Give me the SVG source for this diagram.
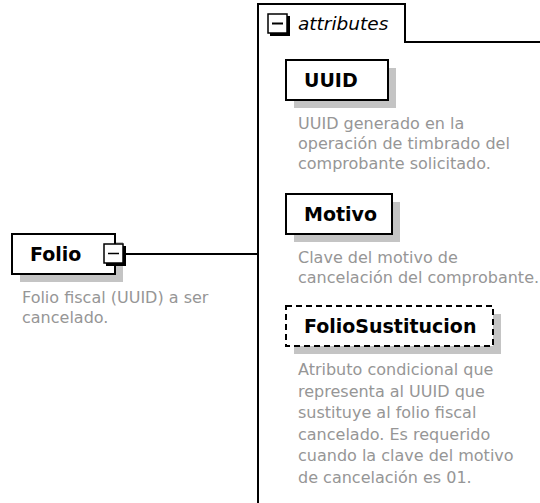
<svg xmlns="http://www.w3.org/2000/svg" width="540" height="503" viewBox="0 0 540 503">
  <style>
    .box { fill: #ffffff; stroke: #000000; stroke-width: 2; }
    .dashed { stroke-dasharray: 6 4; }
    .shadow { fill: #c4c4c4; stroke: none; }
    .title { font-family: "DejaVu Sans", Verdana, sans-serif; font-weight: bold; font-size: 19px; fill: #000000; }
    .desc { font-family: "DejaVu Sans", Verdana, sans-serif; font-size: 16px; fill: #969696; }
    .attr { font-family: "DejaVu Sans", Verdana, sans-serif; font-style: italic; font-size: 18.5px; fill: #000000; }
    .line { fill: none; stroke: #000000; stroke-width: 2; }
    .minus { fill: #ffffff; stroke: #000000; stroke-width: 1.5; }
  </style>

  <g id="attributes">
    <path class="line" d="M540,42 H405 V4 H258 V503"/>
    <rect x="270" y="16" width="20" height="20" fill="#000000"/>
    <rect class="minus" x="268" y="14" width="19" height="19"/>
    <line x1="272" y1="23.5" x2="283" y2="23.5" stroke="#000000" stroke-width="2"/>
    <text class="attr" x="298" y="30">attributes</text>
  </g>

  <g id="connectors">
    <line class="line" x1="124" y1="254" x2="258" y2="254"/>
  </g>

  <g id="Folio">
    <rect class="shadow" x="20" y="242" width="103" height="40"/>
    <rect class="box" x="12" y="234" width="103" height="40"/>
    <text class="title" x="30" y="261">Folio</text>
    <rect x="106" y="246" width="20" height="20" fill="#000000"/>
    <rect class="minus" x="104" y="244" width="19" height="19"/>
    <line x1="108" y1="253.5" x2="119" y2="253.5" stroke="#000000" stroke-width="1.5"/>
    <text class="desc" x="22" y="303">Folio fiscal (UUID) a ser</text>
    <text class="desc" x="22" y="323">cancelado.</text>
  </g>

  <g id="UUID">
    <rect class="shadow" x="294" y="68" width="102" height="40"/>
    <rect class="box" x="286" y="60" width="102" height="40"/>
    <text class="title" x="304" y="87">UUID</text>
    <text class="desc" x="298" y="129">UUID generado en la</text>
    <text class="desc" x="298" y="149">operación de timbrado del</text>
    <text class="desc" x="298" y="169">comprobante solicitado.</text>
  </g>

  <g id="Motivo">
    <rect class="shadow" x="294" y="202" width="106" height="40"/>
    <rect class="box" x="286" y="194" width="106" height="40"/>
    <text class="title" x="304" y="221">Motivo</text>
    <text class="desc" x="298" y="263">Clave del motivo de</text>
    <text class="desc" x="298" y="283">cancelación del comprobante.</text>
  </g>

  <g id="FolioSustitucion">
    <rect class="shadow" x="294" y="314" width="207" height="40"/>
    <rect class="box dashed" x="286" y="306" width="207" height="40"/>
    <text class="title" x="304" y="333">FolioSustitucion</text>
    <text class="desc" x="298" y="375">Atributo condicional que</text>
    <text class="desc" x="298" y="396.5">representa al UUID que</text>
    <text class="desc" x="298" y="418">sustituye al folio fiscal</text>
    <text class="desc" x="298" y="439.5">cancelado. Es requerido</text>
    <text class="desc" x="298" y="461">cuando la clave del motivo</text>
    <text class="desc" x="298" y="482.5">de cancelación es 01.</text>
  </g>
</svg>
